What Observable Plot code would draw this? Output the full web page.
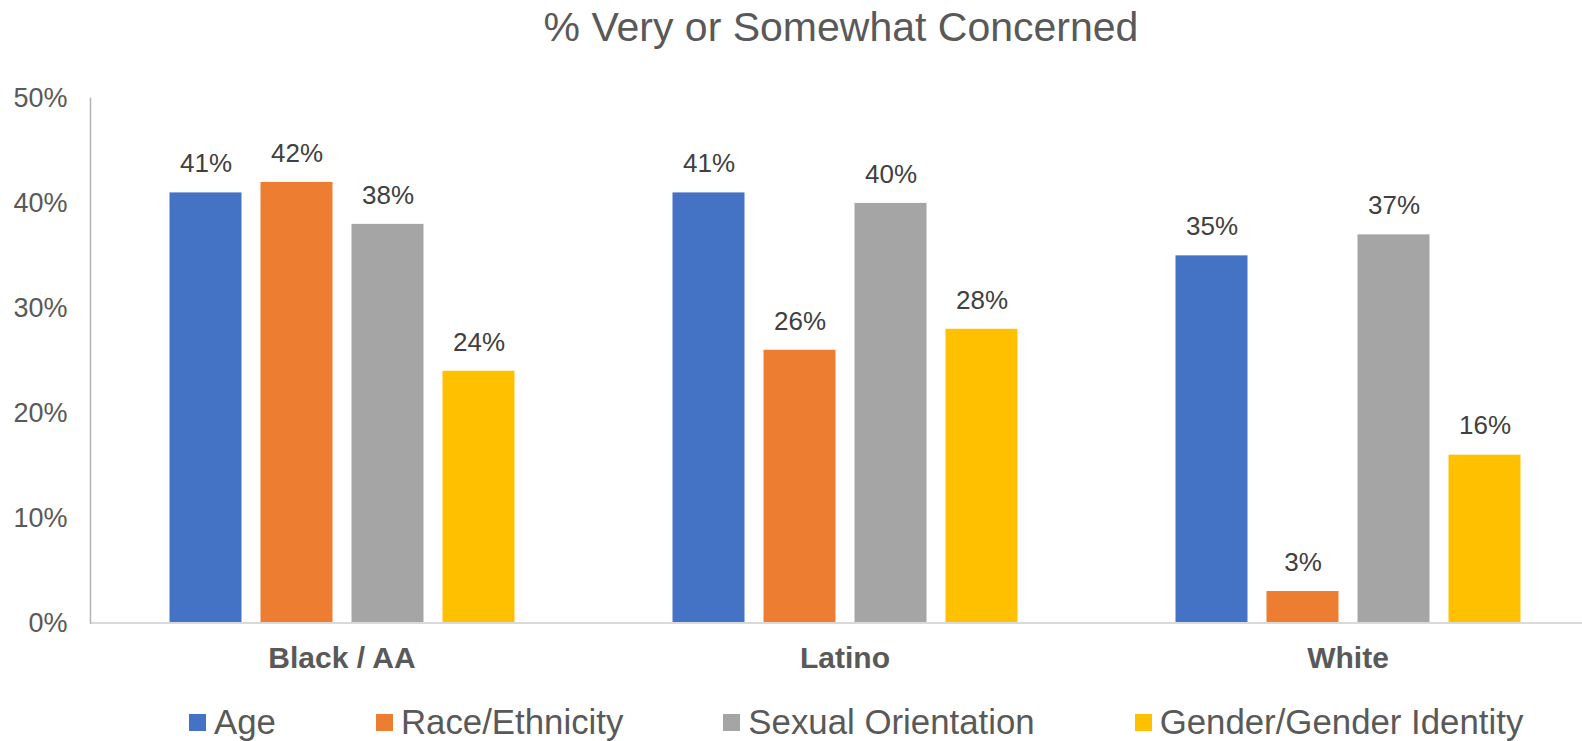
<!DOCTYPE html>
<html><head><meta charset="utf-8">
<script src="https://cdn.jsdelivr.net/npm/d3@7"></script>
<script src="https://cdn.jsdelivr.net/npm/@observablehq/plot@0.6"></script>
<style>
body{margin:0;background:#fff;font-family:"Liberation Sans",Arial,sans-serif;width:1582px;height:741px;overflow:hidden;position:relative}
#title{height:60px;line-height:54px;font-size:41px;color:#595959;text-align:center;padding-left:100px}
#legend{position:absolute;left:189px;top:704px;height:36px;display:flex;align-items:center;gap:100px;font-size:34.8px;color:#595959}
.item{display:flex;align-items:center;gap:8px}
.sw{width:17px;height:17px}
</style></head><body>
<div id="title">% Very or Somewhat Concerned</div>
<div id="chart"></div>
<div id="legend"></div>
<script>
const groups = ["Black / AA", "Latino", "White"];
const series = ["Age", "Race/Ethnicity", "Sexual Orientation", "Gender/Gender Identity"];
const colors = ["#4472C4", "#ED7D31", "#A5A5A5", "#FFC000"];
const age = [41, 41, 35];
const race = [42, 26, 3];
const sexual = [38, 40, 37];
const gender = [24, 28, 16];
const yTicks = [0, 10, 20, 30, 40, 50];

const valuesBySeries = [age, race, sexual, gender];
const data = [];
groups.forEach((g, gi) => series.forEach((s, si) => data.push({group: g, series: s, value: valuesBySeries[si][gi]})));

const chart = Plot.plot({
  width: 1582, height: 630,
  marginTop: 38, marginBottom: 67.5, marginLeft: 89.5, marginRight: -16.5,
  style: {fontFamily: '"Liberation Sans", Arial, sans-serif', background: "white", overflow: "visible"},
  fx: {domain: groups, padding: 0, label: null},
  x: {domain: series, paddingInner: 0.21, paddingOuter: 0.868, align: 0.5, axis: null},
  y: {domain: [0, 50]},
  color: {domain: series, range: colors},
  marks: [
    Plot.axisY({ticks: yTicks, tickFormat: d => d + "%", tickSize: 0, tickPadding: 23, fontSize: 27, fill: "#595959", label: null}),
    Plot.axisFx({anchor: "bottom", tickSize: 0, tickPadding: 24, fontSize: 30, fontWeight: "bold", fill: "#595959", label: null}),
    Plot.barY(data, {fx: "group", x: "series", y: "value", fill: "series"}),
    Plot.ruleY([0], {stroke: "#d9d9d9", strokeWidth: 2}),
    Plot.frame({anchor: "left", facetAnchor: "left", stroke: "#b4b4b4", strokeWidth: 1.5}),
    Plot.text(data, {fx: "group", x: "series", y: "value", text: d => d.value + "%", dy: -29, fontSize: 26, fill: "#404040"})
  ]
});
document.getElementById("chart").appendChild(chart);

const legend = document.getElementById("legend");
series.forEach((s, i) => {
  const item = document.createElement("div");
  item.className = "item";
  const sw = document.createElement("span");
  sw.className = "sw";
  sw.style.background = colors[i];
  const t = document.createElement("span");
  t.textContent = s;
  item.appendChild(sw); item.appendChild(t);
  legend.appendChild(item);
});
</script>
</body></html>
